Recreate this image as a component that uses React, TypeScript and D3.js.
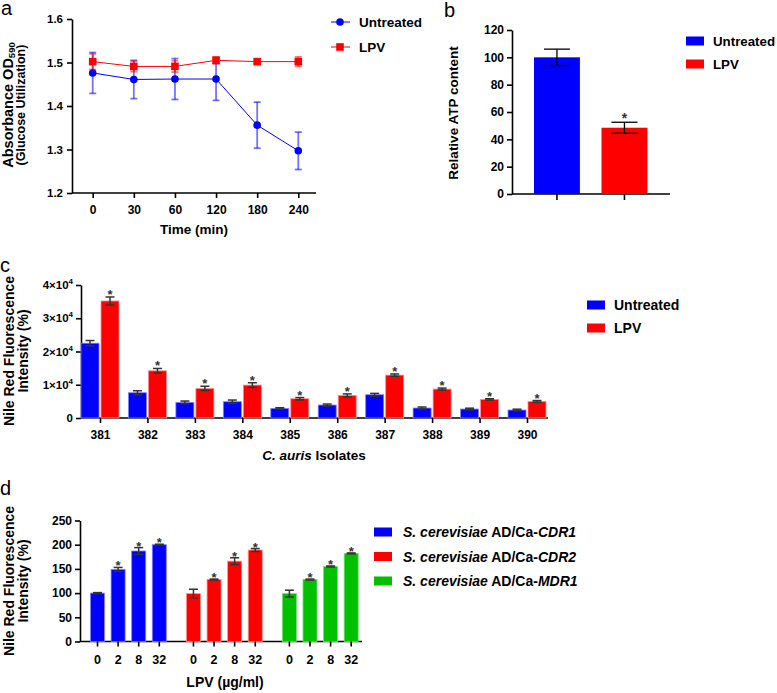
import * as d3 from "d3";
import { useEffect, useRef } from "react";

// ---- data ----
const timePoints = ["0", "30", "60", "120", "180", "240"];
const untreatedOD = [1.476, 1.461, 1.462, 1.462, 1.356, 1.297];
const untreatedODErr = [0.047, 0.044, 0.047, 0.049, 0.053, 0.043];
const lpvOD = [1.502, 1.491, 1.491, 1.505, 1.502, 1.502];
const lpvODErr = [0.018, 0.012, 0.013, 0.008, 0.005, 0.011];

const atpGroups = ["Untreated", "LPV"];
const atpValues = [100, 48.5];
const atpErr = [6, 4];

const isolates = ["381", "382", "383", "384", "385", "386", "387", "388", "389", "390"];
const nileUntreated = [22500, 7600, 4700, 4900, 2900, 3900, 7000, 3000, 2700, 2400];
const nileUntreatedErr = [800, 600, 400, 500, 200, 300, 400, 300, 250, 250];
const nileLPV = [35200, 14200, 8900, 9900, 5800, 6800, 12900, 8700, 5600, 5000];
const nileLPVErr = [1200, 700, 650, 700, 350, 450, 350, 300, 200, 250];

const strains = ["CDR1", "CDR2", "MDR1"];
const doses = ["0", "2", "8", "32"];
const cdr1Values = [100, 149, 187, 200];
const cdr1Err = [1, 4, 7, 1];
const cdr2Values = [99, 128, 166, 189];
const cdr2Err = [9, 1, 7, 3];
const mdr1Values = [99, 128, 155, 182];
const mdr1Err = [7, 1, 1, 1];

const FONT = "'Liberation Sans', Arial, Helvetica, sans-serif";
const BLUE = "#0000ff";
const RED = "#ff0000";
const GREEN = "#00c000";

type Sel = d3.Selection<any, any, any, any>;

const styleAxis = (g: Sel, size = 12) => {
  g.attr("font-family", FONT).attr("font-size", size).attr("font-weight", "bold");
  g.select(".domain").attr("stroke", "#000").attr("stroke-width", 1.6);
  g.selectAll(".tick line").attr("stroke", "#000").attr("stroke-width", 1.6);
  g.selectAll(".tick text").attr("fill", "#000");
};

const label = (svg: Sel, x: number, y: number, txt: string, size: number, opts: any = {}) =>
  svg
    .append("text")
    .attr("transform", `translate(${x},${y})${opts.rotate ? " rotate(-90)" : ""}`)
    .attr("text-anchor", opts.anchor || "middle")
    .attr("font-family", FONT)
    .attr("font-size", size)
    .attr("font-weight", opts.weight || "bold")
    .attr("fill", "#000")
    .text(txt);

const star = (svg: Sel, x: number, y: number, size = 13) =>
  svg
    .append("text")
    .attr("x", x)
    .attr("y", y)
    .attr("text-anchor", "middle")
    .attr("font-family", FONT)
    .attr("font-size", size)
    .attr("font-weight", "bold")
    .attr("fill", "#333")
    .text("*");

const errBar = (svg: Sel, x: number, y1: number, y2: number, half: number, color: string, w = 1.5, op = 1) => {
  const g = svg.append("g").attr("stroke", color).attr("stroke-width", w).attr("stroke-opacity", op);
  g.append("line").attr("x1", x).attr("x2", x).attr("y1", y1).attr("y2", y2);
  g.append("line").attr("x1", x - half).attr("x2", x + half).attr("y1", y1).attr("y2", y1);
  g.append("line").attr("x1", x - half).attr("x2", x + half).attr("y1", y2).attr("y2", y2);
};

export default function App() {
  const svgRef = useRef<SVGSVGElement>(null);

  useEffect(() => {
    document.body.style.margin = "0";
    if (!svgRef.current) return;
    const svg = d3.select(svgRef.current);
    svg.selectAll("*").remove();

    // ===== panel a =====
    label(svg, 1, 15, "a", 20, { anchor: "start", weight: "normal" });
    const xa = d3.scalePoint<string>().domain(timePoints).range([92.7, 298.3]);
    const ya = d3.scaleLinear().domain([1.2, 1.6]).range([193, 19]);
    const gya = svg
      .append("g")
      .attr("transform", "translate(72,0)")
      .call(d3.axisLeft(ya).tickValues([1.2, 1.3, 1.4, 1.5, 1.6]).tickFormat(d3.format(".1f")).tickSize(5).tickSizeOuter(0).tickPadding(4));
    styleAxis(gya, 11.5);
    const gxa = svg
      .append("g")
      .attr("transform", "translate(0,193)")
      .call(d3.axisBottom(xa).tickSize(5).tickPadding(7));
    styleAxis(gxa, 12);
    gxa.select(".domain").remove();
    svg.append("line").attr("x1", 72).attr("x2", 316).attr("y1", 193).attr("y2", 193).attr("stroke", "#000").attr("stroke-width", 1.6);

    const ylab = label(svg, 12.5, 105, "Absorbance OD", 14.5, { rotate: true });
    ylab.append("tspan").attr("font-size", 9.5).attr("dy", 2.5).text("590");
    label(svg, 24.5, 105, "(Glucose Utilization)", 12.5, { rotate: true });
    label(svg, 194, 234, "Time (min)", 13.5);

    const seriesA = [
      { vals: untreatedOD, errs: untreatedODErr, color: BLUE, shape: "circle" },
      { vals: lpvOD, errs: lpvODErr, color: RED, shape: "square" },
    ];
    seriesA.forEach((s) => {
      s.vals.forEach((v, i) => {
        errBar(svg, xa(timePoints[i])!, ya(v + s.errs[i]), ya(v - s.errs[i]), 3.5, s.color, 1.8, 0.55);
      });
    });
    seriesA.forEach((s) => {
      const line = d3
        .line<number>()
        .x((_, i) => xa(timePoints[i])!)
        .y((d) => ya(d));
      svg.append("path").attr("d", line(s.vals)).attr("fill", "none").attr("stroke", s.color).attr("stroke-width", 1);
      s.vals.forEach((v, i) => {
        const cx = xa(timePoints[i])!;
        if (s.shape === "circle") svg.append("circle").attr("cx", cx).attr("cy", ya(v)).attr("r", 3.8).attr("fill", s.color);
        else svg.append("rect").attr("x", cx - 3.8).attr("y", ya(v) - 3.8).attr("width", 7.6).attr("height", 7.6).attr("fill", s.color);
      });
    });
    // legend a
    seriesA.forEach((s, i) => {
      const ly = 22 + i * 25;
      svg.append("line").attr("x1", 331).attr("x2", 350).attr("y1", ly).attr("y2", ly).attr("stroke", s.color).attr("stroke-width", 1);
      if (s.shape === "circle") svg.append("circle").attr("cx", 340).attr("cy", ly).attr("r", 3.8).attr("fill", s.color);
      else svg.append("rect").attr("x", 336.2).attr("y", ly - 3.8).attr("width", 7.6).attr("height", 7.6).attr("fill", s.color);
      label(svg, 359, ly + 5, i === 0 ? "Untreated" : "LPV", 13.5, { anchor: "start" });
    });

    // ===== panel b =====
    label(svg, 444, 17, "b", 20, { anchor: "start", weight: "normal" });
    const xb = d3.scaleBand<string>().domain(atpGroups).range([512, 669.4]).paddingInner(0.32).paddingOuter(0.326);
    const yb = d3.scaleLinear().domain([0, 120]).range([194, 30]);
    const gyb = svg
      .append("g")
      .attr("transform", "translate(512,0)")
      .call(d3.axisLeft(yb).tickValues([0, 20, 40, 60, 80, 100, 120]).tickSize(5).tickSizeOuter(0).tickPadding(3));
    styleAxis(gyb, 12);
    const gxb = svg
      .append("g")
      .attr("transform", "translate(0,194)")
      .call(d3.axisBottom(xb).tickSize(6).tickFormat(() => ""));
    styleAxis(gxb);
    gxb.select(".domain").remove();
    svg.append("line").attr("x1", 512).attr("x2", 670).attr("y1", 194).attr("y2", 194).attr("stroke", "#000").attr("stroke-width", 1.6);
    atpGroups.forEach((g, i) => {
      svg
        .append("rect")
        .attr("x", xb(g)!)
        .attr("y", yb(atpValues[i]))
        .attr("width", xb.bandwidth())
        .attr("height", yb(0) - yb(atpValues[i]))
        .attr("fill", i === 0 ? BLUE : RED);
      const cx = xb(g)! + xb.bandwidth() / 2;
      errBar(svg, cx, yb(atpValues[i] + atpErr[i]), yb(atpValues[i] - atpErr[i]), 13, "#000", 1.3);
      if (i === 1) star(svg, cx, yb(atpValues[i] + atpErr[i]) + 1, 14);
    });
    label(svg, 458, 113, "Relative ATP content", 13.5, { rotate: true });
    atpGroups.forEach((g, i) => {
      const ly = 41 + i * 23;
      svg.append("rect").attr("x", 686).attr("y", ly - 4.5).attr("width", 18).attr("height", 9).attr("fill", i === 0 ? BLUE : RED);
      label(svg, 713, ly + 5, g, 13.3, { anchor: "start" });
    });

    // ===== panel c =====
    label(svg, 0, 272, "c", 20, { anchor: "start", weight: "normal" });
    const xc = d3.scalePoint<string>().domain(isolates).range([100, 527]);
    const xcInner = d3.scaleBand<string>().domain(atpGroups).range([-19, 19]).paddingInner(0.1);
    const yc = d3.scaleLinear().domain([0, 40000]).range([418, 285]);
    const gyc = svg
      .append("g")
      .attr("transform", "translate(81,0)")
      .call(d3.axisLeft(yc).tickValues([0, 10000, 20000, 30000, 40000]).tickSize(5).tickSizeOuter(0).tickPadding(3));
    styleAxis(gyc, 11.5);
    gyc.selectAll<SVGTextElement, number>(".tick text").each(function (d) {
      const t = d3.select(this);
      t.text(null);
      if (d === 0) {
        t.text("0");
        return;
      }
      t.append("tspan").text(`${d / 10000}×10`);
      t.append("tspan").attr("font-size", 8).attr("dy", -5).text("4");
    });
    const gxc = svg
      .append("g")
      .attr("transform", "translate(0,418)")
      .call(d3.axisBottom(xc).tickSize(5).tickPadding(7));
    styleAxis(gxc, 12);
    gxc.select(".domain").remove();
    svg.append("line").attr("x1", 81).attr("x2", 548).attr("y1", 418).attr("y2", 418).attr("stroke", "#000").attr("stroke-width", 1.6);
    const seriesC = [
      { name: "Untreated", vals: nileUntreated, errs: nileUntreatedErr, color: BLUE, edge: "#8080ff" },
      { name: "LPV", vals: nileLPV, errs: nileLPVErr, color: RED, edge: "#ff9090" },
    ];
    seriesC.forEach((s) => {
      s.vals.forEach((v, i) => {
        const x0 = xc(isolates[i])! + xcInner(s.name)!;
        svg
          .append("rect")
          .attr("x", x0)
          .attr("y", yc(v))
          .attr("width", xcInner.bandwidth())
          .attr("height", yc(0) - yc(v))
          .attr("fill", s.color)
          .attr("stroke", s.edge)
          .attr("stroke-width", 0.8);
        const cx = x0 + xcInner.bandwidth() / 2;
        errBar(svg, cx, yc(v + s.errs[i]), yc(v - s.errs[i]), 4.5, "#333", 1.5);
        if (s.name === "LPV") star(svg, cx, yc(v + s.errs[i]) + 2, 13);
      });
    });
    label(svg, 13.5, 351, "Nile Red Fluorescence", 14, { rotate: true });
    label(svg, 28, 351, "Intensity (%)", 14, { rotate: true });
    const cx0 = label(svg, 314, 459.5, "", 13.5);
    cx0.append("tspan").attr("font-style", "italic").text("C. auris");
    cx0.append("tspan").text(" Isolates");
    seriesC.forEach((s, i) => {
      const ly = 305 + i * 23;
      svg.append("rect").attr("x", 587).attr("y", ly - 4.5).attr("width", 18).attr("height", 9).attr("fill", s.color);
      label(svg, 614, ly + 5, s.name, 14, { anchor: "start" });
    });

    // ===== panel d =====
    label(svg, 0, 495, "d", 20, { anchor: "start", weight: "normal" });
    const xd = d3.scalePoint<string>().domain(strains).range([128.4, 320.3]);
    const xdInner = d3.scaleBand<string>().domain(doses).range([-37.9, 37.9]).paddingInner(0.32);
    const yd = d3.scaleLinear().domain([0, 250]).range([641.5, 520.5]);
    const gyd = svg
      .append("g")
      .attr("transform", "translate(80,0)")
      .call(d3.axisLeft(yd).tickValues([0, 50, 100, 150, 200, 250]).tickSize(5).tickSizeOuter(0).tickPadding(3));
    styleAxis(gyd, 12);
    svg.append("line").attr("x1", 80).attr("x2", 362).attr("y1", 641.5).attr("y2", 641.5).attr("stroke", "#000").attr("stroke-width", 1.6);
    const seriesD = [
      { vals: cdr1Values, errs: cdr1Err, color: BLUE, edge: "#8080ff", gene: "CDR1" },
      { vals: cdr2Values, errs: cdr2Err, color: RED, edge: "#ff9090", gene: "CDR2" },
      { vals: mdr1Values, errs: mdr1Err, color: GREEN, edge: "#70e070", gene: "MDR1" },
    ];
    seriesD.forEach((s, gi) => {
      s.vals.forEach((v, i) => {
        const x0 = xd(strains[gi])! + xdInner(doses[i])!;
        const cx = x0 + xdInner.bandwidth() / 2;
        svg
          .append("rect")
          .attr("x", x0)
          .attr("y", yd(v))
          .attr("width", xdInner.bandwidth())
          .attr("height", yd(0) - yd(v))
          .attr("fill", s.color)
          .attr("stroke", s.edge)
          .attr("stroke-width", 0.8);
        errBar(svg, cx, yd(v + s.errs[i]), yd(v - s.errs[i]), 4.5, "#333", 1.5);
        if (i > 0) star(svg, cx, yd(v + s.errs[i]) + 3, 13);
        svg.append("line").attr("x1", cx).attr("x2", cx).attr("y1", 641.5).attr("y2", 646.5).attr("stroke", "#000").attr("stroke-width", 1.6);
        label(svg, cx, 664, doses[i], 12.5);
      });
    });
    label(svg, 13.5, 581, "Nile Red Fluorescence", 14, { rotate: true });
    label(svg, 28, 581, "Intensity (%)", 14, { rotate: true });
    label(svg, 225, 687, "LPV (µg/ml)", 14);
    seriesD.forEach((s, i) => {
      const ly = 532 + i * 24.5;
      svg.append("rect").attr("x", 374).attr("y", ly - 4.5).attr("width", 18).attr("height", 9).attr("fill", s.color);
      const t = label(svg, 403, ly + 5, "", 14, { anchor: "start" });
      t.append("tspan").attr("font-style", "italic").text("S. cerevisiae");
      t.append("tspan").text(" AD/Ca-");
      t.append("tspan").attr("font-style", "italic").text(s.gene);
    });
  }, []);

  return (
    <svg
      ref={svgRef}
      width={777}
      height={693}
      viewBox="0 0 777 693"
      style={{ display: "block", background: "#fff" }}
    />
  );
}
